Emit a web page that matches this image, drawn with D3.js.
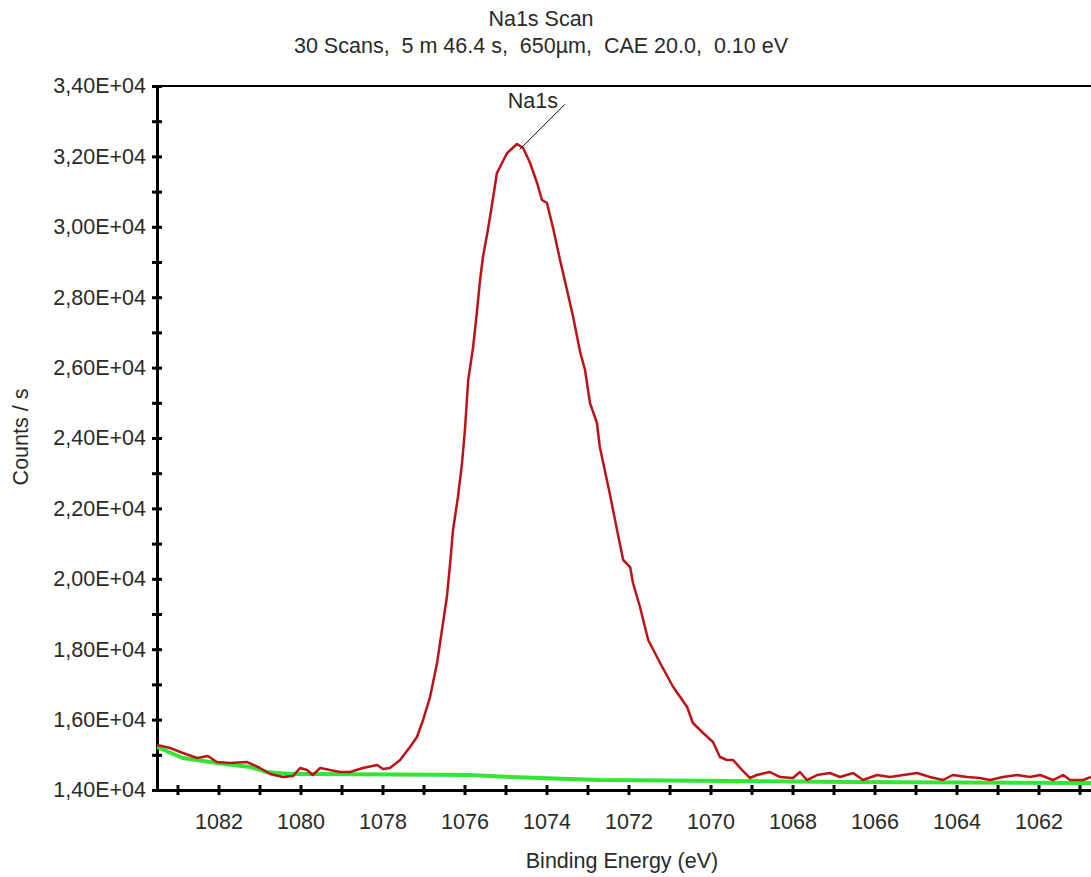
<!DOCTYPE html>
<html>
<head>
<meta charset="utf-8">
<script src="https://cdn.jsdelivr.net/npm/d3@7"></script>
<style>
  body { margin: 0; background: #fff; }
  text { font-family: "Liberation Sans", Arial, sans-serif; fill: #2a2a2a; white-space: pre; }
</style>
</head>
<body>
<div id="chart"></div>
<script>
var W = 1091, H = 877;
var margin = {top: 86, right: 0, bottom: 87, left: 157};
var width = W - margin.left - margin.right;
var height = H - margin.top - margin.bottom;
var fontSize = '21.5px';

// Na1s spectrum (binding energy eV, counts/s)
var energy = [1083.50, 1083.18, 1082.87, 1082.52, 1082.26, 1082.04, 1081.72, 1081.30, 1080.99, 1080.74,
  1080.43, 1080.18, 1080.01, 1079.84, 1079.70, 1079.52, 1079.28, 1079.04, 1078.79, 1078.48,
  1078.13, 1077.99, 1077.82, 1077.57, 1077.33, 1077.16, 1077.01, 1076.84, 1076.67, 1076.55,
  1076.43, 1076.35, 1076.28, 1076.16, 1076.06, 1075.99, 1075.91, 1075.79, 1075.70, 1075.62,
  1075.55, 1075.43, 1075.30, 1075.21, 1074.96, 1074.72, 1074.57, 1074.40, 1074.23, 1074.11,
  1073.99, 1073.84, 1073.67, 1073.50, 1073.35, 1073.18, 1073.06, 1072.94, 1072.77, 1072.70,
  1072.45, 1072.28, 1072.13, 1071.96, 1071.89, 1071.72, 1071.52, 1071.23, 1070.91, 1070.57,
  1070.43, 1070.18, 1069.94, 1069.77, 1069.60, 1069.45, 1069.23, 1069.04, 1068.87, 1068.55,
  1068.30, 1067.99, 1067.82, 1067.65, 1067.40, 1067.09, 1066.84, 1066.52, 1066.28, 1065.94,
  1065.62, 1065.30, 1064.96, 1064.65, 1064.33, 1064.09, 1063.74, 1063.43, 1063.18, 1062.87,
  1062.52, 1062.21, 1061.96, 1061.65, 1061.40, 1061.23, 1060.91, 1060.72];
var counts = [15278, 15193, 15051, 14909, 14966, 14795, 14767, 14795, 14625, 14455,
  14369, 14398, 14625, 14568, 14426, 14625, 14568, 14511, 14511, 14625,
  14710, 14597, 14625, 14852, 15222, 15506, 15989, 16642, 17608, 18545,
  19483, 20449, 21386, 22324, 23290, 24227, 25648, 26585, 27551, 28489,
  29142, 29909, 30847, 31528, 32097, 32352, 32239, 31813, 31244, 30761,
  30676, 29966, 29057, 28205, 27438, 26443, 25932, 24994, 24426, 23744,
  22381, 21386, 20534, 20335, 19881, 19199, 18261, 17608, 16926, 16358,
  15903, 15619, 15364, 14938, 14852, 14852, 14568, 14341, 14426, 14511,
  14369, 14341, 14511, 14284, 14426, 14483, 14369, 14483, 14284, 14426,
  14369, 14426, 14483, 14369, 14284, 14426, 14369, 14341, 14284, 14369,
  14426, 14369, 14426, 14284, 14426, 14284, 14284, 14369];

// background (green)
var bgEnergy = [1083.50, 1082.87, 1082.04, 1081.23, 1080.82, 1080.26, 1079.60, 1075.87, 1074.89, 1072.70, 1066.60, 1060.72];
var bgCounts = [15222, 14909, 14767, 14653, 14511, 14455, 14455, 14426, 14369, 14284, 14227, 14199];

var xTicks = d3.range(1083, 1060, -1);
var yTicks = d3.range(14000, 34001, 1000);

var x = d3.scaleLinear().domain([1083.5, 1060.72]).range([0, width]);
var y = d3.scaleLinear().domain([14000, 34000]).range([height, 0]);

var svg = d3.select('#chart').append('svg')
  .attr('width', W)
  .attr('height', H);

var g = svg.append('g')
  .attr('transform', 'translate(' + margin.left + ',' + margin.top + ')');

// titles
svg.append('text')
  .attr('x', 541).attr('y', 26)
  .attr('text-anchor', 'middle')
  .style('font-size', fontSize)
  .text('Na1s Scan');
svg.append('text')
  .attr('x', 541).attr('y', 53)
  .attr('text-anchor', 'middle')
  .style('font-size', fontSize)
  .text('30 Scans,  5 m 46.4 s,  650µm,  CAE 20.0,  0.10 eV');

// top frame line
g.append('line')
  .attr('x1', 0).attr('x2', width)
  .attr('y1', 0).attr('y2', 0)
  .attr('stroke', '#000').attr('stroke-width', 2);

var fmtY = (v) => (v / 10000).toFixed(2).replace('.', ',') + 'E+04';

var yAxis = g.append('g')
  .call(d3.axisLeft(y).tickValues(yTicks).tickSize(0)
    .tickFormat((d) => (d % 2000 === 0 ? fmtY(d) : '')));
yAxis.select('.domain').attr('stroke', '#000').attr('stroke-width', 3);
yAxis.selectAll('.tick line').attr('x1', -5).attr('x2', 5)
  .attr('stroke', '#000').attr('stroke-width', 3);
yAxis.selectAll('.tick text').attr('x', -11)
  .style('font-size', fontSize).style('font-family', '"Liberation Sans", Arial, sans-serif')
  .attr('fill', '#2a2a2a');

var xAxis = g.append('g')
  .attr('transform', 'translate(0,' + height + ')')
  .call(d3.axisBottom(x).tickValues(xTicks).tickSize(0)
    .tickFormat((d) => (d % 2 === 0 ? d : '')));
xAxis.select('.domain').attr('stroke', '#000').attr('stroke-width', 3);
xAxis.selectAll('.tick line').attr('y1', -5).attr('y2', 5)
  .attr('stroke', '#000').attr('stroke-width', 3);
xAxis.selectAll('.tick text').attr('y', 24)
  .style('font-size', fontSize).style('font-family', '"Liberation Sans", Arial, sans-serif')
  .attr('fill', '#2a2a2a');

// axis titles
svg.append('text')
  .attr('transform', 'translate(28,437) rotate(-90)')
  .attr('text-anchor', 'middle')
  .style('font-size', fontSize)
  .text('Counts / s');
svg.append('text')
  .attr('x', 622).attr('y', 868)
  .attr('text-anchor', 'middle')
  .style('font-size', fontSize)
  .text('Binding Energy (eV)');

var line = d3.line().x((d) => x(d[0])).y((d) => y(d[1]));

g.append('path')
  .datum(bgEnergy.map((e, i) => [e, bgCounts[i]]))
  .attr('d', line)
  .attr('fill', 'none')
  .attr('stroke', '#33e633')
  .attr('stroke-width', 4);

g.append('path')
  .datum(energy.map((e, i) => [e, counts[i]]))
  .attr('d', line)
  .attr('fill', 'none')
  .attr('stroke', '#bb1318')
  .attr('stroke-width', 2.5)
  .attr('stroke-linejoin', 'round');

// peak label with leader line
var peakE = 1074.65, peakC = 32200;
g.append('line')
  .attr('x1', x(peakE)).attr('y1', y(peakC))
  .attr('x2', x(peakE) + 45).attr('y2', y(peakC) - 45)
  .attr('stroke', '#000').attr('stroke-width', 1);
g.append('text')
  .attr('x', x(peakE) + 13).attr('y', y(peakC) - 41)
  .attr('text-anchor', 'middle')
  .style('font-size', fontSize)
  .text('Na1s');
</script>
</body>
</html>
